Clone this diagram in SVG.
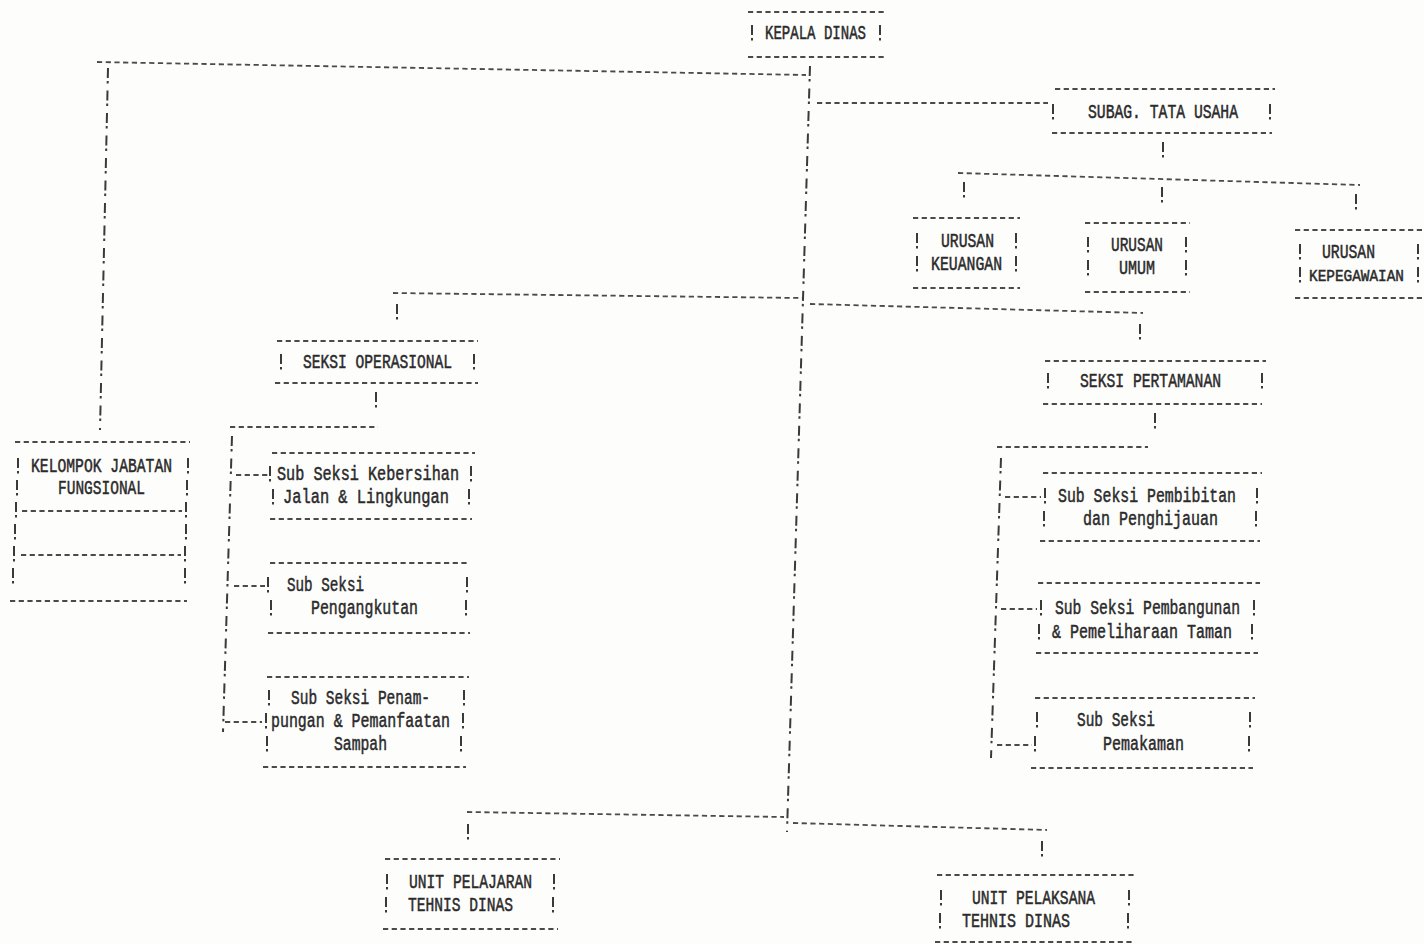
<svg xmlns="http://www.w3.org/2000/svg" width="1424" height="944" viewBox="0 0 1424 944">
<style>
.h{fill:none;stroke:#4a4a4a;stroke-width:1.8;stroke-dasharray:5.2 3.5}
.v{fill:none;stroke:#3a3a3a;stroke-width:2;stroke-dasharray:10 3 2.5 7}
.ex{fill:none;stroke:#3a3a3a;stroke-width:2}
text{font-family:"Liberation Mono","DejaVu Sans Mono",monospace;font-size:20px;fill:#2a2a2a;stroke:#2a2a2a;stroke-width:0.5}
.sm{font-size:17px}
</style>
<rect width="1424" height="944" fill="#fdfdfc"/>
<g id="connectors">
<path class="h" d="M97 62L806 75"/>
<path class="v" d="M810 66L787 832"/>
<path class="v" d="M108 68L100 430"/>
<path class="h" d="M817 103L1048 103"/>
<path class="ex" d="M1163 142v10m0 3v2.5"/>
<path class="h" d="M958 173L1360 185"/>
<path class="ex" d="M964 182v10m0 3v2.5M1162 187v10m0 3v2.5M1356 194v10m0 3v2.5"/>
<path class="h" d="M393 293L802 298"/>
<path class="h" d="M810 304L1143 313"/>
<path class="ex" d="M397 304v10m0 3v2.5M1140 324v10m0 3v2.5"/>
<path class="ex" d="M376 392v10m0 3v2.5"/>
<path class="h" d="M230 427L378 427"/>
<path class="v" d="M232 436L223 732"/>
<path class="h" d="M236 475H268M234 586H265M225 722H262"/>
<path class="ex" d="M1155 413v10m0 3v2.5"/>
<path class="h" d="M997 447L1148 447"/>
<path class="v" d="M1001 458L991 758"/>
<path class="h" d="M1005 497H1041M1001 609H1037M997 745H1032"/>
<path class="h" d="M467 812L784 817"/>
<path class="h" d="M793 823L1047 830"/>
<path class="ex" d="M468 824v10m0 3v2.5M1042 841v10m0 3v2.5"/>
</g>
<g id="n-kepala">
<path class="h" d="M748 12H884M748 57H884"/>
<path class="ex" d="M752 25v10m0 3v2.5M880 25v10m0 3v2.5"/>
<text x="765" y="39" textLength="101" lengthAdjust="spacingAndGlyphs">KEPALA DINAS</text>
</g>
<g id="n-subag">
<path class="h" d="M1055 89H1275M1052 133H1272"/>
<path class="ex" d="M1053 104v10m0 3v2.5M1270 104v10m0 3v2.5"/>
<text x="1088" y="118" textLength="150" lengthAdjust="spacingAndGlyphs">SUBAG. TATA USAHA</text>
</g>
<g id="n-keuangan">
<path class="h" d="M913 218H1020M913 288H1020"/>
<path class="ex" d="M917 233v10m0 3v2.5M917 256v10m0 3v2.5M1016 233v10m0 3v2.5M1016 256v10m0 3v2.5"/>
<text x="941" y="247" textLength="53" lengthAdjust="spacingAndGlyphs">URUSAN</text>
<text x="931" y="270" textLength="71" lengthAdjust="spacingAndGlyphs">KEUANGAN</text>
</g>
<g id="n-umum">
<path class="h" d="M1085 223H1190M1085 292H1190"/>
<path class="ex" d="M1088 237v10m0 3v2.5M1088 260v10m0 3v2.5M1186 237v10m0 3v2.5M1186 260v10m0 3v2.5"/>
<text x="1111" y="251" textLength="52" lengthAdjust="spacingAndGlyphs">URUSAN</text>
<text x="1119" y="274" textLength="36" lengthAdjust="spacingAndGlyphs">UMUM</text>
</g>
<g id="n-kepegawaian">
<path class="h" d="M1295 230H1424M1295 298H1424"/>
<path class="ex" d="M1300 244v10m0 3v2.5M1300 267v10m0 3v2.5M1418 244v10m0 3v2.5M1418 267v10m0 3v2.5"/>
<text x="1322" y="258" textLength="53" lengthAdjust="spacingAndGlyphs">URUSAN</text>
<text class="sm" x="1309" y="281" textLength="95" lengthAdjust="spacingAndGlyphs">KEPEGAWAIAN</text>
</g>
<g id="n-kelompok">
<path class="h" d="M15 442H190M10 601H187M22 511H182M21 555H181"/>
<path class="ex" d="M18 458v10m0 3v2.5M17 480v10m0 3v2.5M16 502v10m0 3v2.5M15 524v10m0 3v2.5M14 546v10m0 3v2.5M13 568v10m0 3v2.5M188 458v10m0 3v2.5M187 480v10m0 3v2.5M186 502v10m0 3v2.5M186 524v10m0 3v2.5M185 546v10m0 3v2.5M185 568v10m0 3v2.5"/>
<text x="31" y="472" textLength="141" lengthAdjust="spacingAndGlyphs">KELOMPOK JABATAN</text>
<text x="58" y="494" textLength="87" lengthAdjust="spacingAndGlyphs">FUNGSIONAL</text>
</g>
<g id="n-operasional">
<path class="h" d="M277 341H478M275 383H478"/>
<path class="ex" d="M281 354v10m0 3v2.5M474 354v10m0 3v2.5"/>
<text x="303" y="368" textLength="149" lengthAdjust="spacingAndGlyphs">SEKSI OPERASIONAL</text>
</g>
<g id="n-kebersihan">
<path class="h" d="M272 453H475M270 519H472"/>
<path class="ex" d="M270 466v10m0 3v2.5M471 466v10m0 3v2.5M273 489v10m0 3v2.5M469 489v10m0 3v2.5"/>
<text x="277" y="480" textLength="182" lengthAdjust="spacingAndGlyphs">Sub Seksi Kebersihan</text>
<text x="283" y="503" textLength="166" lengthAdjust="spacingAndGlyphs">Jalan &amp; Lingkungan</text>
</g>
<g id="n-pengangkutan">
<path class="h" d="M270 563H470M268 633H470"/>
<path class="ex" d="M268 577v10m0 3v2.5M467 577v10m0 3v2.5M271 600v10m0 3v2.5M466 600v10m0 3v2.5"/>
<text x="287" y="591" textLength="77" lengthAdjust="spacingAndGlyphs">Sub Seksi</text>
<text x="311" y="614" textLength="107" lengthAdjust="spacingAndGlyphs">Pengangkutan</text>
</g>
<g id="n-penampungan">
<path class="h" d="M267 677H469M263 767H466"/>
<path class="ex" d="M269 690v10m0 3v2.5M464 690v10m0 3v2.5M266 713v10m0 3v2.5M463 713v10m0 3v2.5M267 736v10m0 3v2.5M461 736v10m0 3v2.5"/>
<text x="291" y="704" textLength="139" lengthAdjust="spacingAndGlyphs">Sub Seksi Penam-</text>
<text x="271" y="727" textLength="179" lengthAdjust="spacingAndGlyphs">pungan &amp; Pemanfaatan</text>
<text x="334" y="750" textLength="53" lengthAdjust="spacingAndGlyphs">Sampah</text>
</g>
<g id="n-pertamanan">
<path class="h" d="M1045 361H1266M1043 404H1262"/>
<path class="ex" d="M1048 373v10m0 3v2.5M1262 373v10m0 3v2.5"/>
<text x="1080" y="387" textLength="141" lengthAdjust="spacingAndGlyphs">SEKSI PERTAMANAN</text>
</g>
<g id="n-pembibitan">
<path class="h" d="M1043 473H1262M1040 541H1260"/>
<path class="ex" d="M1045 488v10m0 3v2.5M1257 488v10m0 3v2.5M1044 511v10m0 3v2.5M1256 511v10m0 3v2.5"/>
<text x="1058" y="502" textLength="178" lengthAdjust="spacingAndGlyphs">Sub Seksi Pembibitan</text>
<text x="1083" y="525" textLength="135" lengthAdjust="spacingAndGlyphs">dan Penghijauan</text>
</g>
<g id="n-pembangunan">
<path class="h" d="M1038 583H1260M1036 653H1258"/>
<path class="ex" d="M1041 600v10m0 3v2.5M1254 600v10m0 3v2.5M1039 624v10m0 3v2.5M1252 624v10m0 3v2.5"/>
<text x="1055" y="614" textLength="185" lengthAdjust="spacingAndGlyphs">Sub Seksi Pembangunan</text>
<text x="1052" y="638" textLength="180" lengthAdjust="spacingAndGlyphs">&amp; Pemeliharaan Taman</text>
</g>
<g id="n-pemakaman">
<path class="h" d="M1035 698H1255M1031 768H1253"/>
<path class="ex" d="M1037 712v10m0 3v2.5M1250 712v10m0 3v2.5M1035 736v10m0 3v2.5M1249 736v10m0 3v2.5"/>
<text x="1077" y="726" textLength="78" lengthAdjust="spacingAndGlyphs">Sub Seksi</text>
<text x="1103" y="750" textLength="81" lengthAdjust="spacingAndGlyphs">Pemakaman</text>
</g>
<g id="n-upt-pelajaran">
<path class="h" d="M385 859H560M383 929H558"/>
<path class="ex" d="M387 874v10m0 3v2.5M554 874v10m0 3v2.5M386 897v10m0 3v2.5M553 897v10m0 3v2.5"/>
<text x="409" y="888" textLength="123" lengthAdjust="spacingAndGlyphs">UNIT PELAJARAN</text>
<text x="408" y="911" textLength="105" lengthAdjust="spacingAndGlyphs">TEHNIS DINAS</text>
</g>
<g id="n-upt-pelaksana">
<path class="h" d="M937 875H1135M935 942H1133"/>
<path class="ex" d="M941 890v10m0 3v2.5M1129 890v10m0 3v2.5M940 913v10m0 3v2.5M1128 913v10m0 3v2.5"/>
<text x="972" y="904" textLength="123" lengthAdjust="spacingAndGlyphs">UNIT PELAKSANA</text>
<text x="962" y="927" textLength="108" lengthAdjust="spacingAndGlyphs">TEHNIS DINAS</text>
</g>
</svg>
